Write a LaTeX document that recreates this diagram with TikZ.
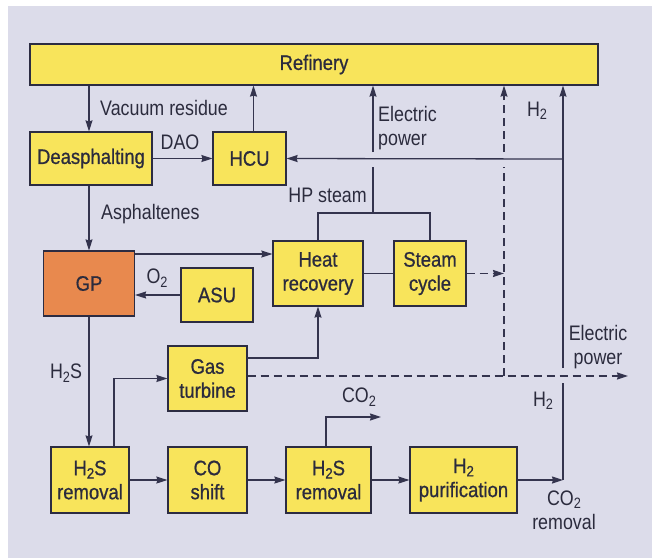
\documentclass[tikz,border=0pt]{standalone}
\usepackage{fontspec}
\setmainfont{Liberation Sans}[FakeStretch=0.85]
\newfontfamily\boxfont{Liberation Sans}[FakeStretch=0.88,FakeBold=0.8]
\usetikzlibrary{arrows.meta}
\definecolor{bgc}{HTML}{DCDCEA}
\definecolor{yel}{HTML}{F8E45B}
\definecolor{ora}{HTML}{E8894E}
\definecolor{lnc}{HTML}{34344E}
\definecolor{txc}{HTML}{2B2B3D}
\newcommand{\sbt}[1]{\raisebox{-0.3ex}{\fontsize{15}{15}\selectfont #1}}
\tikzset{
  blk/.style={draw=lnc!85!black, line width=1.2pt, fill=yel, inner sep=0pt, text=txc,
    font=\boxfont\fontsize{21}{24}\selectfont, align=center},
  lbl/.style={text=txc, font=\fontsize{21}{24}\selectfont, inner sep=0pt, align=center},
  arr/.style={draw=lnc, line width=1.3pt, -{Stealth[length=11pt,width=7pt,inset=1pt]}},
  ln/.style={draw=lnc, line width=1.3pt},
  dsh/.style={dash pattern=on 8pt off 5pt}
}
\begin{document}
\begin{tikzpicture}[x=1pt,y=-1pt]
\useasboundingbox (0,0) rectangle (652,558);
\fill[white] (0,0) rectangle (652,558);
\fill[bgc] (8,6) rectangle (652,558);

% boxes
\node[blk, minimum width=568pt, minimum height=41pt] (ref) at (314,64.5) {Refinery};
\node[blk, minimum width=122pt, minimum height=53pt] (dea) at (91,158.5) {Deasphalting};
\node[blk, minimum width=73pt, minimum height=53pt] (hcu) at (249.5,158.5) {HCU};
\node[blk, fill=ora, minimum width=91pt, minimum height=65pt] (gp) at (89,283.5) {GP};
\node[blk, minimum width=72pt, minimum height=54pt] (asu) at (217,295) {ASU};
\node[blk, minimum width=90pt, minimum height=65pt] (heat) at (318,273.5) {Heat\\recovery};
\node[blk, minimum width=72pt, minimum height=65pt] (steam) at (430,273.5) {Steam\\cycle};
\node[blk, minimum width=79pt, minimum height=65pt] (gas) at (207.5,378.5) {Gas\\turbine};
\node[blk, minimum width=78pt, minimum height=66pt] (hs1) at (90,480) {H\sbt{2}S\\removal};
\node[blk, minimum width=79pt, minimum height=66pt] (co) at (207.5,480) {CO\\shift};
\node[blk, minimum width=85pt, minimum height=66pt] (hs2) at (328.5,480) {H\sbt{2}S\\removal};
\node[blk, minimum width=107pt, minimum height=66pt] (h2p) at (463.5,480) {H\sbt{2}\\purification};

% coordinates
\coordinate (h2c) at (563,480);
\coordinate (h2gb) at (563,383);
\coordinate (h2gt) at (563,368);
\coordinate (h2j) at (563,159);
\coordinate (hpj) at (373,213);
\coordinate (hpgb) at (373,167);
\coordinate (hpgt) at (373,152);
\coordinate (gpo) at (135,254);
\coordinate (dvb) at (504,376);
\coordinate (dvgb) at (504,167);
\coordinate (dvgt) at (504,152);
\coordinate (epend) at (628,376);
\coordinate (gto) at (247,358);
\coordinate (co2end) at (381,417);

% connectors
\draw[arr] (gp.north |- ref.south) -- (gp.north |- dea.north);
\draw[arr] (gp.north |- dea.south) -- (gp.north);
\draw[arr] (dea.east) -- (hcu.west);
\draw[arr] ([xshift=4pt]hcu.north) -- ([xshift=4pt]hcu.north |- ref.south);
\draw[arr] (h2p.east) -- (h2c);
\draw[ln] (h2c) -- (h2gb);
\draw[arr] (h2gt) -- (h2gt |- ref.south);
\draw[arr] (h2j) -- (hcu.east);
\draw[ln] (heat.north) |- (hpj) -| (steam.north);
\draw[ln] (hpj) -- (hpgb);
\draw[arr] (hpgt) -- (hpgt |- ref.south);
\draw[arr] (gpo) -- (gpo -| heat.west);
\draw[arr] (asu.west) -- (asu.west -| gp.east);
\draw[ln] (heat.east) -- (steam.west);
\draw[arr, dsh] (steam.east) -- (steam.east -| dvb);
\draw[ln, dsh] (dvb) -- (dvgb);
\draw[arr, dsh] (dvgt) -- (dvgt |- ref.south);
\draw[arr, dsh] (gas.east |- dvb) -- (epend);
\draw[arr] (gto) -| (heat.south);
\draw[arr] (gp.south) -- (gp.south |- hs1.north);
\draw[arr] ([xshift=24pt]hs1.north) |- (gas.west);
\draw[arr] (hs1.east) -- (co.west);
\draw[arr] (co.east) -- (hs2.west);
\draw[arr] (hs2.east) -- (h2p.west);
\draw[arr] ([xshift=-2.5pt]hs2.north) |- (co2end);

% labels
\node[lbl, anchor=west] (lvr) at (100,108) {Vacuum residue};
\node[lbl] (ldao) at (180,142) {DAO};
\node[lbl, anchor=west, align=left] (lep1) at (378,128.5) {Electric\\power};
\node[lbl] (lh2a) at (537,111) {H\sbt{2}};
\node[lbl, anchor=east] (lhp) at (367,195) {HP steam};
\node[lbl, anchor=west] (lasp) at (101,214) {Asphaltenes};
\node[lbl] (lo2) at (157,278) {O\sbt{2}};
\node[lbl] (lh2s) at (66,373) {H\sbt{2}S};
\node[lbl] (lep2) at (598,347.5) {Electric\\power};
\node[lbl] (lh2b) at (543,401) {H\sbt{2}};
\node[lbl] (lco2) at (359,397) {CO\sbt{2}};
\node[lbl] (lco2r) at (564,510) {CO\sbt{2}\\removal};
\end{tikzpicture}
\end{document}
